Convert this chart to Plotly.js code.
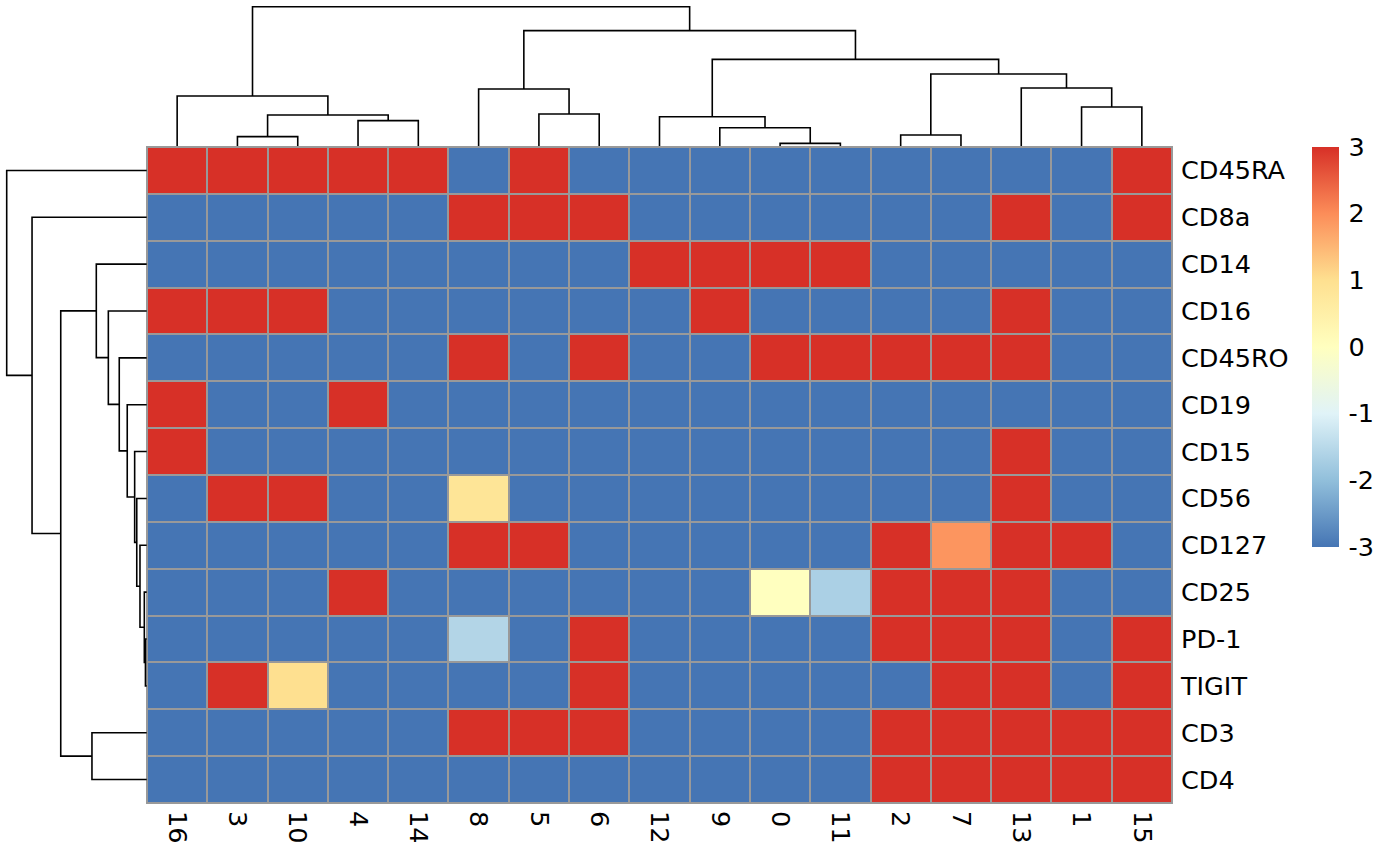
<!DOCTYPE html>
<html><head><meta charset="utf-8">
<script src="https://cdn.plot.ly/plotly-3.0.1.min.js"></script>
<style>html,body{margin:0;padding:0;background:#fff}#chart{width:1400px;height:865px}</style>
</head><body><div id="chart"></div>
<script>
// Column (cluster) labels in display order and row (marker) labels
const colLabels = ["16","3","10","4","14","8","5","6","12","9","0","11","2","7","13","1","15"];
const rowLabels = ["CD45RA","CD8a","CD14","CD16","CD45RO","CD19","CD15","CD56","CD127","CD25","PD-1","TIGIT","CD3","CD4"];

// Scaled expression values per marker (columns in colLabels order)
const vCD45RA = [ 3, 3, 3, 3, 3,-3, 3,-3,-3,-3,-3,-3,-3,-3,-3,-3, 3];
const vCD8a   = [-3,-3,-3,-3,-3, 3, 3, 3,-3,-3,-3,-3,-3,-3, 3,-3, 3];
const vCD14   = [-3,-3,-3,-3,-3,-3,-3,-3, 3, 3, 3, 3,-3,-3,-3,-3,-3];
const vCD16   = [ 3, 3, 3,-3,-3,-3,-3,-3,-3, 3,-3,-3,-3,-3, 3,-3,-3];
const vCD45RO = [-3,-3,-3,-3,-3, 3,-3, 3,-3,-3, 3, 3, 3, 3, 3,-3,-3];
const vCD19   = [ 3,-3,-3, 3,-3,-3,-3,-3,-3,-3,-3,-3,-3,-3,-3,-3,-3];
const vCD15   = [ 3,-3,-3,-3,-3,-3,-3,-3,-3,-3,-3,-3,-3,-3, 3,-3,-3];
const vCD56   = [-3, 3, 3,-3,-3,0.85,-3,-3,-3,-3,-3,-3,-3,-3, 3,-3,-3];
const vCD127  = [-3,-3,-3,-3,-3, 3, 3,-3,-3,-3,-3,-3, 3,1.9, 3, 3,-3];
const vCD25   = [-3,-3,-3, 3,-3,-3,-3,-3,-3,-3, 0,-1.67, 3, 3, 3,-3,-3];
const vPD1    = [-3,-3,-3,-3,-3,-1.57,-3, 3,-3,-3,-3,-3, 3, 3, 3,-3, 3];
const vTIGIT  = [-3, 3, 1.0,-3,-3,-3,-3, 3,-3,-3,-3,-3,-3, 3, 3,-3, 3];
const vCD3    = [-3,-3,-3,-3,-3, 3, 3, 3,-3,-3,-3,-3, 3, 3, 3, 3, 3];
const vCD4    = [-3,-3,-3,-3,-3,-3,-3,-3,-3,-3,-3,-3, 3, 3, 3, 3, 3];

// Legend ticks
const legendTicks = [3,2,1,0,-1,-2,-3];

// Column dendrogram merges (hclust style: string = leaf, number = earlier merge, 1-based)
const colMergeA = ["0", "9", "12", "3", "4", 4, "16", "5", "8", "2", "1", "13", 10, 3, 9, 7];
const colMergeB = ["11", 1,  2,   "10","14", 5, 6,    "6", 8,   "7", "15", 11, 12, 13, 14, 15];
const colMergeH = [0.019,0.131,0.210,0.067,0.182,0.223,0.359,0.230,0.409,0.079,0.280,0.416,0.517,0.622,0.828,1.0];

// Row dendrogram merges
const rowMergeA = ["PD-1","CD25","CD127","CD56","CD15","CD19","CD45RO","CD16","CD14","CD3", 9, "CD8a","CD45RA"];
const rowMergeB = ["TIGIT", 1, 2, 3, 4, 5, 6, 7, 8, "CD4", 10, 11, 12];
const rowMergeH = [0.009,0.017,0.048,0.071,0.086,0.139,0.196,0.274,0.36,0.391,0.614,0.819,1.0];

const z = [vCD45RA,vCD8a,vCD14,vCD16,vCD45RO,vCD19,vCD15,vCD56,vCD127,vCD25,vPD1,vTIGIT,vCD3,vCD4];

function dendro(leaves, A, B, H){
  const pos = {}; leaves.forEach((l,i)=>pos[l]=i);
  const nx=[], nh=[], p=[], h=[];
  const get = r => typeof r === 'number' ? [nx[r-1], nh[r-1]] : [pos[r], 0];
  for(let k=0;k<A.length;k++){
    const [x1,h1]=get(A[k]); const [x2,h2]=get(B[k]); const hk=H[k];
    p.push(x1,x1,x2,x2,null); h.push(h1,hk,hk,h2,null);
    nx.push((x1+x2)/2); nh.push(hk);
  }
  return {p,h};
}

const W=1400, Hh=865;
const hmL=147, hmR=1172, hmT=147, hmB=803;
const colD = dendro(colLabels, colMergeA, colMergeB, colMergeH);
const rowD = dendro(rowLabels, rowMergeA, rowMergeB, rowMergeH);
const font = {family:"DejaVu Sans, sans-serif", size:25.5, color:"#000"};

const cs = [[0,'#4575B4'],[1/6,'#91BFDB'],[2/6,'#E0F3F8'],[0.5,'#FFFFBF'],[4/6,'#FEE090'],[5/6,'#FC8D59'],[1,'#D73027']];

const traces = [
  {type:'heatmap', z:z, x:colLabels.map((_,i)=>i), y:rowLabels.map((_,i)=>i),
   colorscale:cs, zmin:-3, zmax:3, xgap:2, ygap:2, hoverinfo:'skip',
   colorbar:{x:1311.7/W, xanchor:'left', xpad:0, y:1-146.7/Hh, yanchor:'top', ypad:0,
     len:400/Hh, lenmode:'fraction', thickness:26.5, outlinewidth:0,
     ticks:'outside', ticklen:5, tickcolor:'rgba(0,0,0,0)',
     tickvals:legendTicks, ticktext:legendTicks.map(String), tickfont:font}},
  {type:'scatter', mode:'lines', x:colD.p, y:colD.h, xaxis:'x2', yaxis:'y2',
   line:{color:'#000', width:1.6}, hoverinfo:'skip', showlegend:false},
  {type:'scatter', mode:'lines', x:rowD.h, y:rowD.p, xaxis:'x3', yaxis:'y3',
   line:{color:'#000', width:1.6}, hoverinfo:'skip', showlegend:false}
];

const ax = {showgrid:false, zeroline:false, showline:false, ticks:''};
const layout = {
  width:W, height:Hh, margin:{l:0,r:0,t:0,b:0}, paper_bgcolor:'#fff', plot_bgcolor:'rgba(0,0,0,0)',
  showlegend:false, font:font,
  xaxis:Object.assign({}, ax, {domain:[hmL/W, hmR/W], range:[-0.5,16.5], anchor:'y',
    tickvals:colLabels.map((_,i)=>i), ticktext:colLabels, tickangle:90, tickfont:font, ticklabelstandoff:7}),
  yaxis:Object.assign({}, ax, {domain:[1-hmB/Hh, 1-hmT/Hh], range:[13.5,-0.5], anchor:'x', side:'right',
    tickvals:rowLabels.map((_,i)=>i), ticktext:rowLabels, tickfont:font, ticklabelstandoff:8}),
  xaxis2:Object.assign({}, ax, {domain:[hmL/W, hmR/W], range:[-0.5,16.5], anchor:'y2', visible:false}),
  yaxis2:Object.assign({}, ax, {domain:[1-(146+0.02*139.3)/Hh, 1-(6.7-0.03*139.3)/Hh], range:[-0.02,1.03], anchor:'x2', visible:false}),
  xaxis3:Object.assign({}, ax, {domain:[(6.7-0.03*140)/W, (146.7+0.02*140)/W], range:[1.03,-0.02], anchor:'y3', visible:false}),
  yaxis3:Object.assign({}, ax, {domain:[1-hmB/Hh, 1-hmT/Hh], range:[13.5,-0.5], anchor:'x3', visible:false}),
  shapes:[{type:'rect', xref:'x domain', yref:'y domain', x0:0, x1:1, y0:0, y1:1,
    fillcolor:'#999999', line:{color:'#999999', width:2}, layer:'below'}]
};

Plotly.newPlot('chart', traces, layout, {displayModeBar:false, staticPlot:true});
</script></body></html>
